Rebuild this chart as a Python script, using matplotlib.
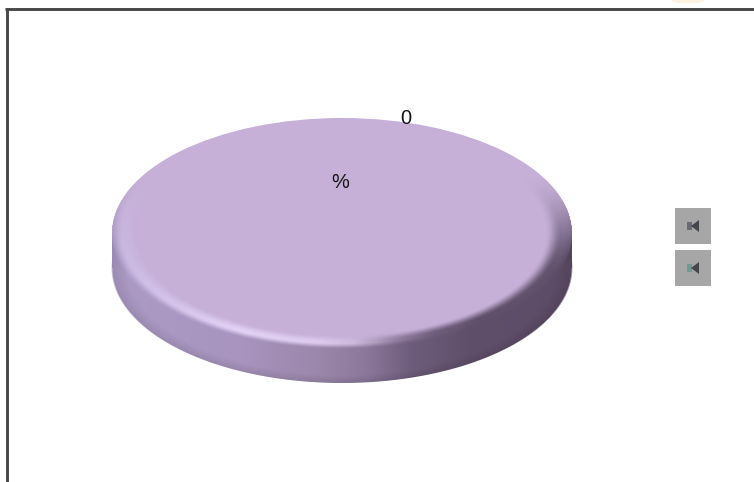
import numpy as np
import matplotlib
matplotlib.use("Agg")
import matplotlib.pyplot as plt
from matplotlib.patches import Ellipse, Rectangle

values = [100, 0]
slice_colors = ["#c6b0d8", "#c6b0d8"]
value_label = "0"
percent_label = "%"

W, H = 754, 482
cx, cy, a, b, depth = 342, 233, 230, 115, 35

plt.rcParams["font.family"] = ["Liberation Sans", "DejaVu Sans"]
fig = plt.figure(figsize=(W / 100, H / 100), dpi=100, facecolor="white")
ax = fig.add_axes([0, 0, 1, 1])
ax.set_xlim(0, W)
ax.set_ylim(H, 0)
ax.axis("off")

# frame
ax.plot([6.8, 6.8], [H, 8], color="#484848", lw=2.1, solid_capstyle="butt")
ax.plot([5.3, W], [9, 9], color="#484848", lw=2.1, solid_capstyle="butt")
ax.add_patch(Ellipse((688, 0), 34, 7, fc="#fff4e2", ec="none"))

# shading of the disc side and bevel
yy, xx = np.mgrid[0:H, 0:W] + 0.5
nx = (xx - cx) / a
r_top = np.sqrt(nx**2 + ((yy - cy) / b) ** 2)
r_bot = np.sqrt(nx**2 + ((yy - cy - depth) / b) ** 2)
body = (r_bot <= 1) | ((np.abs(nx) <= 1) & (yy >= cy) & (yy <= cy + depth))

stops_x = [-1.0, -0.45, -0.1, 0.1, 0.3, 0.55, 1.0]
side_stops = np.array([[172, 155, 198], [168, 148, 190], [155, 135, 170], [140, 120, 155],
                       [110, 92, 124], [96, 79, 106], [92, 76, 102]], float)
crest_x = [-1.0, -0.45, -0.1, 0.05, 0.15, 0.25, 0.4, 0.6, 1.0]
crest_stops = np.array([[200, 183, 224], [228, 210, 246], [222, 204, 238], [205, 186, 220],
                        [176, 156, 190], [144, 124, 158], [112, 94, 126], [96, 79, 106],
                        [100, 84, 112]], float)

side = np.stack([np.interp(nx, stops_x, side_stops[:, i]) for i in range(3)], -1)
crest = np.stack([np.interp(nx, crest_x, crest_stops[:, i]) for i in range(3)], -1)

# side gets slightly darker toward its lower edge
shade = 1 - 0.10 * np.clip((r_bot - 0.93) / 0.07, 0, 1)
img = np.zeros((H, W, 4))
img[..., :3] = np.clip(side * shade[..., None], 0, 255) / 255
soft = np.clip((1.004 - r_bot) / 0.008, 0, 1)
img[..., 3] = np.where(yy > cy, np.maximum(soft, (np.abs(nx) <= 1) * (yy <= cy + depth)), 0) * 1.0
ax.imshow(img, extent=(0, W, H, 0), zorder=2, interpolation="bilinear", aspect="auto")

# pie through the library, stretched into the top ellipse
pie_ax = fig.add_axes([(cx - a) / W, 1 - (cy + b) / H, 2 * a / W, 2 * b / H], zorder=3)
pie_ax.patch.set_alpha(0)
pie_ax.pie(values, colors=slice_colors, radius=1, startangle=90, counterclock=False)
pie_ax.set_aspect("auto")
pie_ax.set_xlim(-1, 1)
pie_ax.set_ylim(-1, 1)

# bevel overlay: flat top -> crest -> side
over_ax = fig.add_axes([0, 0, 1, 1], zorder=4)
over_ax.set_xlim(0, W)
over_ax.set_ylim(H, 0)
over_ax.axis("off")


def smooth(v):
    v = np.clip(v, 0, 1)
    return v * v * (3 - 2 * v)


t1 = smooth((r_top - 0.885) / 0.07)
t2 = smooth((r_top - 0.955) / 0.055)[..., None]
colour = crest * (1 - t2) + side * shade[..., None] * t2
weight = smooth((yy - cy + 60) / 100)
ov = np.zeros((H, W, 4))
ov[..., :3] = np.clip(colour, 0, 255) / 255
inside = np.where(yy > cy, body, r_top <= 1.0)
ov[..., 3] = np.clip(t1 * weight, 0, 1) * inside * np.where(r_top <= 1.01, 1.0, 0.0)
over_ax.imshow(ov, extent=(0, W, H, 0), interpolation="bilinear", aspect="auto")
over_ax.set_xlim(0, W)
over_ax.set_ylim(H, 0)

over_ax.text(340, 183, percent_label, fontsize=14.4, ha="center", va="center", color="#151515")
over_ax.text(405.5, 118.5, value_label, fontsize=14.4, ha="center", va="center", color="#151515")

# legend buttons
for y0, tint in [(208, "#6a6a74"), (250, "#6f9a94")]:
    over_ax.add_patch(Rectangle((675, y0), 36, 36, fc="#a6a6a6", ec="none"))
    ym = y0 + 18
    over_ax.add_patch(Rectangle((687, ym - 4), 5, 8, fc=tint, ec="none"))
    over_ax.fill([699, 699, 691], [ym - 6, ym + 6, ym], color="#45454c", lw=0)

fig.savefig("out.png", dpi=100)
